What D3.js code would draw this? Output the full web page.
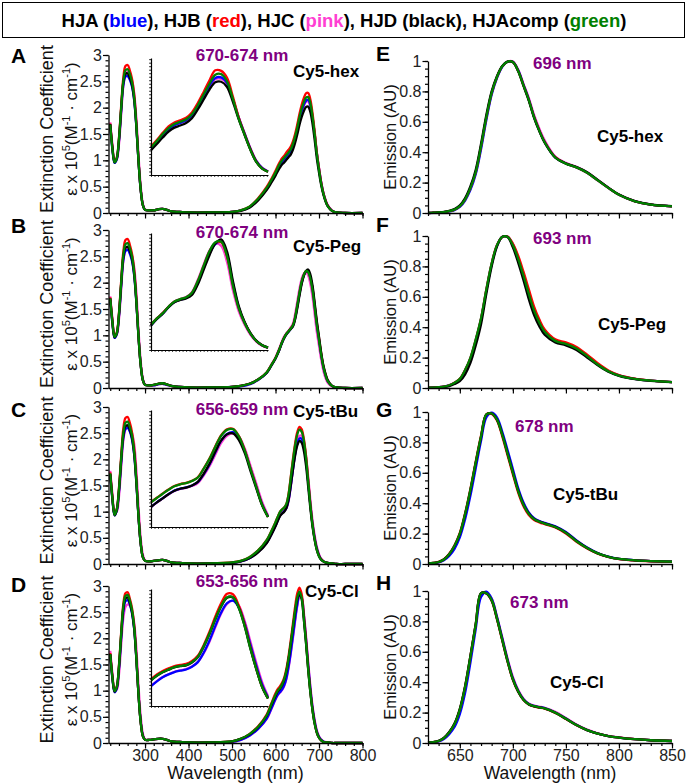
<!DOCTYPE html>
<html><head><meta charset="utf-8">
<script src="https://cdn.jsdelivr.net/npm/d3@7"></script>
<style>
body{margin:0;background:#fff}
svg{display:block}
text{font-family:"Liberation Sans",Arial,Helvetica,sans-serif}
</style>
</head><body>
<svg id="chart" width="687" height="783"></svg>
<script>
// ---------------- DATA ----------------
const seriesNames = ["HJA","HJB","HJC","HJD","HJAcomp"];
const seriesColorWords = ["blue","red","pink","black","green"];

// absorbance wavelength grid (nm)
const absWl = [220,225,230,235,240,245,250,255,260,265,270,275,280,285,290,295,300,
  310,320,330,340,350,360,380,400,450,500,520,540,560,
  580,590,600,605,610,615,620,625,630,635,640,645,650,655,660,665,670,675,680,685,690,695,700,705,710,715,720,
  730,740,760,800];

// Panel A (Cy5-hex), extinction coefficient x 10^5
const absA_HJA = [1.66,1.20,0.95,1.02,1.36,1.92,2.42,2.59,2.60,2.53,2.40,2.14,1.64,0.98,0.44,0.15,0.06,
  0.05,0.05,0.07,0.08,0.06,0.03,0.02,0.01,0.01,0.02,0.05,0.11,0.26,
  0.47,0.60,0.75,0.84,0.91,0.97,1.02,1.07,1.12,1.18,1.28,1.41,1.58,1.77,1.93,2.05,2.13,2.15,2.05,1.82,1.50,1.13,0.84,0.58,0.38,0.24,0.14,
  0.04,0.01,0,0];
const absA_HJB = [1.70,1.25,0.97,1.05,1.42,2.02,2.56,2.79,2.81,2.71,2.55,2.25,1.70,1.00,0.45,0.15,0.06,
  0.05,0.05,0.07,0.08,0.06,0.03,0.02,0.01,0.01,0.02,0.05,0.12,0.28,
  0.50,0.64,0.80,0.89,0.97,1.04,1.09,1.15,1.20,1.26,1.36,1.50,1.68,1.88,2.05,2.18,2.27,2.28,2.16,1.90,1.55,1.15,0.85,0.58,0.38,0.24,0.14,
  0.04,0.01,0,0];
const absA_HJC = [1.72,1.30,1.00,1.02,1.30,1.85,2.40,2.63,2.68,2.64,2.52,2.28,1.80,1.10,0.52,0.18,0.07,
  0.05,0.05,0.07,0.08,0.06,0.03,0.02,0.01,0.01,0.02,0.04,0.11,0.25,
  0.46,0.59,0.74,0.82,0.90,0.96,1.00,1.05,1.10,1.16,1.26,1.39,1.56,1.75,1.91,2.03,2.11,2.12,2.03,1.81,1.50,1.14,0.85,0.59,0.39,0.25,0.15,
  0.05,0.01,0,0];
const absA_HJD = [1.69,1.24,0.96,1.03,1.38,1.96,2.47,2.64,2.65,2.57,2.43,2.16,1.65,0.98,0.44,0.15,0.06,
  0.05,0.05,0.07,0.08,0.06,0.03,0.02,0.01,0.01,0.02,0.04,0.10,0.24,
  0.44,0.57,0.71,0.79,0.86,0.92,0.96,1.01,1.06,1.11,1.20,1.33,1.49,1.67,1.82,1.93,2.01,2.02,1.92,1.70,1.39,1.04,0.77,0.53,0.35,0.22,0.13,
  0.04,0.01,0,0];
const absA_HJAcomp = [1.68,1.22,0.96,1.04,1.40,1.98,2.50,2.71,2.73,2.64,2.49,2.20,1.67,0.99,0.45,0.15,0.06,
  0.05,0.05,0.07,0.08,0.06,0.03,0.02,0.01,0.01,0.02,0.05,0.12,0.27,
  0.48,0.62,0.77,0.86,0.94,1.00,1.05,1.10,1.15,1.21,1.31,1.45,1.62,1.82,1.98,2.10,2.19,2.20,2.09,1.84,1.50,1.12,0.82,0.56,0.37,0.23,0.13,
  0.04,0.01,0,0];

// Panel B (Cy5-Peg)
const absB_HJA = [1.68,1.22,0.95,1.02,1.36,1.92,2.42,2.60,2.62,2.55,2.41,2.14,1.63,0.97,0.44,0.15,0.06,
  0.05,0.05,0.07,0.08,0.06,0.04,0.02,0.01,0.01,0.02,0.03,0.07,0.15,
  0.29,0.42,0.56,0.65,0.75,0.86,0.95,1.02,1.07,1.12,1.18,1.32,1.54,1.78,1.99,2.13,2.21,2.21,2.10,1.89,1.56,1.21,0.92,0.63,0.40,0.24,0.13,
  0.04,0.01,0,0];
const absB_HJB = [1.72,1.28,0.98,1.05,1.42,2.02,2.58,2.81,2.83,2.72,2.55,2.24,1.68,0.98,0.44,0.15,0.06,
  0.05,0.06,0.08,0.09,0.07,0.04,0.02,0.01,0.01,0.02,0.04,0.08,0.16,
  0.30,0.43,0.57,0.66,0.76,0.87,0.96,1.03,1.08,1.13,1.19,1.33,1.55,1.79,2.00,2.14,2.22,2.21,2.10,1.90,1.58,1.24,0.95,0.66,0.42,0.26,0.14,
  0.04,0.01,0,0];
const absB_HJC = [1.74,1.32,1.01,1.02,1.30,1.85,2.40,2.62,2.66,2.63,2.52,2.30,1.82,1.10,0.52,0.18,0.07,
  0.05,0.05,0.07,0.08,0.06,0.04,0.02,0.01,0.01,0.02,0.04,0.08,0.16,
  0.30,0.44,0.58,0.68,0.78,0.89,0.98,1.04,1.09,1.15,1.22,1.40,1.64,1.88,2.07,2.17,2.20,2.14,1.98,1.74,1.40,1.06,0.80,0.54,0.33,0.19,0.10,
  0.03,0.01,0,0];
const absB_HJD = [1.70,1.25,0.96,1.03,1.38,1.96,2.48,2.66,2.68,2.60,2.45,2.16,1.64,0.97,0.44,0.15,0.06,
  0.05,0.06,0.08,0.09,0.07,0.04,0.02,0.01,0.01,0.02,0.04,0.08,0.16,
  0.29,0.42,0.56,0.65,0.75,0.86,0.95,1.02,1.07,1.12,1.17,1.30,1.51,1.75,1.97,2.13,2.22,2.25,2.16,1.95,1.62,1.27,0.97,0.67,0.43,0.27,0.15,
  0.04,0.01,0,0];
const absB_HJAcomp = [1.70,1.26,0.97,1.04,1.40,1.98,2.52,2.73,2.75,2.66,2.50,2.20,1.66,0.98,0.44,0.15,0.06,
  0.05,0.06,0.08,0.09,0.07,0.04,0.02,0.01,0.01,0.02,0.04,0.08,0.16,
  0.30,0.43,0.57,0.66,0.76,0.87,0.96,1.03,1.08,1.13,1.19,1.34,1.57,1.81,2.02,2.15,2.22,2.20,2.08,1.86,1.53,1.19,0.91,0.63,0.40,0.24,0.13,
  0.04,0.01,0,0];

// Panel C (Cy5-tBu)
const absC_HJA = [1.70,1.23,0.93,1.02,1.37,1.92,2.40,2.58,2.60,2.53,2.38,2.09,1.56,0.90,0.39,0.13,0.06,
  0.05,0.06,0.07,0.08,0.06,0.03,0.02,0.01,0.01,0.02,0.05,0.11,0.23,
  0.41,0.56,0.73,0.83,0.92,0.97,1.01,1.07,1.22,1.49,1.80,2.09,2.30,2.40,2.39,2.25,1.98,1.58,1.14,0.77,0.50,0.30,0.17,0.09,0.05,0.03,0.02,
  0.01,0,0,0];
const absC_HJB = [1.75,1.28,0.95,1.05,1.45,2.05,2.58,2.79,2.81,2.70,2.52,2.20,1.62,0.92,0.40,0.13,0.06,
  0.05,0.06,0.07,0.08,0.06,0.03,0.02,0.01,0.01,0.03,0.06,0.13,0.26,
  0.46,0.62,0.80,0.90,0.99,1.04,1.08,1.15,1.34,1.66,2.00,2.30,2.52,2.62,2.58,2.40,2.08,1.62,1.15,0.76,0.48,0.28,0.16,0.09,0.05,0.03,0.02,
  0.01,0,0,0];
const absC_HJC = [1.78,1.34,1.00,1.00,1.28,1.82,2.35,2.57,2.62,2.60,2.50,2.30,1.80,1.10,0.50,0.18,0.07,
  0.05,0.06,0.07,0.08,0.06,0.03,0.02,0.01,0.01,0.02,0.05,0.11,0.23,
  0.41,0.56,0.73,0.83,0.92,0.97,1.01,1.06,1.20,1.47,1.80,2.11,2.35,2.45,2.45,2.33,2.07,1.68,1.23,0.84,0.55,0.33,0.19,0.10,0.06,0.03,0.02,
  0.01,0,0,0];
const absC_HJD = [1.72,1.25,0.93,1.03,1.40,1.97,2.45,2.63,2.65,2.57,2.41,2.11,1.57,0.90,0.39,0.13,0.06,
  0.05,0.06,0.07,0.08,0.06,0.03,0.02,0.01,0.01,0.02,0.05,0.11,0.22,
  0.40,0.55,0.72,0.82,0.91,0.96,1.00,1.07,1.23,1.50,1.80,2.07,2.26,2.35,2.32,2.17,1.89,1.49,1.07,0.72,0.46,0.27,0.15,0.08,0.05,0.03,0.02,
  0.01,0,0,0];
const absC_HJAcomp = [1.73,1.26,0.94,1.04,1.42,2.00,2.50,2.70,2.72,2.62,2.46,2.15,1.60,0.91,0.40,0.13,0.06,
  0.05,0.06,0.07,0.08,0.06,0.03,0.02,0.01,0.01,0.03,0.06,0.13,0.26,
  0.46,0.62,0.80,0.90,0.99,1.04,1.08,1.15,1.33,1.64,1.97,2.26,2.47,2.57,2.53,2.36,2.04,1.59,1.13,0.75,0.47,0.27,0.15,0.08,0.05,0.03,0.02,
  0.01,0,0,0];

// Panel D (Cy5-Cl)
const absD_HJA = [1.68,1.23,0.97,1.04,1.40,1.98,2.50,2.71,2.73,2.65,2.48,2.18,1.61,0.93,0.41,0.14,0.06,
  0.06,0.07,0.08,0.08,0.06,0.03,0.02,0.01,0.01,0.02,0.06,0.14,0.27,
  0.47,0.65,0.84,0.92,0.97,1.02,1.10,1.24,1.46,1.73,2.04,2.36,2.64,2.82,2.78,2.45,2.00,1.50,1.05,0.68,0.41,0.22,0.12,0.06,0.03,0.01,0.01,
  0,0,0,0];
const absD_HJB = [1.72,1.28,1.00,1.08,1.48,2.10,2.65,2.86,2.88,2.76,2.58,2.25,1.65,0.93,0.40,0.13,0.06,
  0.06,0.07,0.08,0.08,0.06,0.03,0.02,0.01,0.01,0.03,0.08,0.17,0.32,
  0.55,0.75,0.95,1.03,1.08,1.15,1.25,1.42,1.66,1.96,2.28,2.60,2.86,2.97,2.85,2.45,1.98,1.45,1.00,0.64,0.38,0.20,0.10,0.05,0.02,0.01,0.01,
  0,0,0,0];
const absD_HJC = [1.76,1.33,1.02,1.02,1.30,1.86,2.38,2.60,2.65,2.63,2.52,2.30,1.82,1.10,0.52,0.18,0.07,
  0.06,0.07,0.08,0.08,0.06,0.03,0.02,0.01,0.01,0.02,0.06,0.14,0.27,
  0.46,0.64,0.83,0.91,0.96,1.01,1.09,1.22,1.43,1.70,2.00,2.32,2.61,2.79,2.78,2.50,2.06,1.56,1.10,0.72,0.44,0.24,0.13,0.07,0.03,0.02,0.01,
  0,0,0,0];
const absD_HJD = [1.70,1.25,0.98,1.06,1.44,2.04,2.56,2.76,2.78,2.68,2.50,2.19,1.61,0.92,0.40,0.13,0.06,
  0.06,0.07,0.08,0.08,0.06,0.03,0.02,0.01,0.01,0.03,0.08,0.16,0.30,
  0.52,0.71,0.90,0.98,1.03,1.10,1.20,1.36,1.60,1.88,2.19,2.49,2.74,2.85,2.75,2.37,1.92,1.42,0.98,0.63,0.37,0.20,0.10,0.05,0.02,0.01,0.01,
  0,0,0,0];
const absD_HJAcomp = [1.70,1.26,0.99,1.07,1.46,2.07,2.60,2.81,2.83,2.72,2.54,2.22,1.63,0.93,0.40,0.13,0.06,
  0.06,0.07,0.08,0.08,0.06,0.03,0.02,0.01,0.01,0.03,0.08,0.17,0.31,
  0.53,0.73,0.92,1.00,1.05,1.12,1.22,1.38,1.62,1.91,2.22,2.53,2.78,2.89,2.78,2.39,1.93,1.42,0.98,0.63,0.37,0.20,0.10,0.05,0.02,0.01,0.01,
  0,0,0,0];

// inset (zoom of the long-wavelength band), relative units
const insetWl = [560,570,580,590,600,610,620,630,640,650,660,670,680,690,700,710,720,730,740,750,760];
const insA_HJA = [0.228,0.283,0.34,0.39,0.425,0.445,0.467,0.51,0.585,0.675,0.765,0.83,0.834,0.785,0.65,0.49,0.355,0.225,0.12,0.06,0.03];
const insA_HJB = [0.245,0.30,0.36,0.415,0.448,0.468,0.49,0.535,0.615,0.71,0.81,0.895,0.89,0.83,0.67,0.49,0.35,0.22,0.115,0.056,0.028];
const insA_HJC = [0.228,0.283,0.34,0.39,0.425,0.445,0.465,0.505,0.578,0.665,0.752,0.818,0.822,0.78,0.648,0.492,0.358,0.228,0.122,0.06,0.03];
const insA_HJD = [0.211,0.265,0.32,0.37,0.405,0.423,0.445,0.485,0.56,0.645,0.73,0.792,0.797,0.752,0.625,0.475,0.342,0.215,0.112,0.055,0.028];
const insA_HJAcomp = [0.235,0.29,0.35,0.40,0.435,0.455,0.477,0.52,0.596,0.688,0.78,0.857,0.862,0.80,0.65,0.48,0.345,0.215,0.112,0.055,0.028];

const insB_HJA = [0.21,0.265,0.31,0.365,0.41,0.43,0.445,0.48,0.575,0.70,0.825,0.905,0.925,0.815,0.57,0.365,0.235,0.142,0.078,0.04,0.02];
const insB_HJB = [0.215,0.27,0.315,0.37,0.412,0.432,0.447,0.487,0.585,0.715,0.84,0.915,0.92,0.80,0.56,0.36,0.235,0.142,0.078,0.04,0.02];
const insB_HJC = [0.215,0.27,0.318,0.372,0.415,0.435,0.452,0.495,0.60,0.73,0.85,0.91,0.89,0.75,0.51,0.33,0.215,0.13,0.072,0.037,0.018];
const insB_HJD = [0.21,0.265,0.31,0.365,0.408,0.428,0.44,0.47,0.56,0.685,0.81,0.91,0.945,0.84,0.59,0.375,0.24,0.145,0.08,0.04,0.02];
const insB_HJAcomp = [0.215,0.27,0.315,0.37,0.415,0.435,0.45,0.49,0.59,0.72,0.845,0.92,0.925,0.80,0.55,0.355,0.23,0.14,0.077,0.04,0.02];

const insC_HJA = [0.172,0.211,0.246,0.281,0.311,0.328,0.338,0.355,0.383,0.45,0.535,0.64,0.738,0.795,0.81,0.765,0.655,0.50,0.345,0.195,0.09];
const insC_HJB = [0.214,0.25,0.286,0.32,0.35,0.367,0.377,0.395,0.425,0.50,0.585,0.69,0.785,0.835,0.84,0.78,0.66,0.50,0.343,0.19,0.086];
const insC_HJC = [0.17,0.208,0.243,0.278,0.308,0.325,0.335,0.35,0.375,0.44,0.52,0.62,0.72,0.78,0.80,0.775,0.675,0.525,0.37,0.215,0.10];
const insC_HJD = [0.171,0.21,0.245,0.28,0.31,0.327,0.337,0.355,0.385,0.455,0.54,0.645,0.74,0.793,0.80,0.745,0.635,0.48,0.33,0.185,0.085];
const insC_HJAcomp = [0.212,0.248,0.284,0.318,0.348,0.365,0.375,0.393,0.422,0.497,0.582,0.686,0.78,0.83,0.836,0.776,0.656,0.497,0.34,0.188,0.085];

const insD_HJA = [0.17,0.21,0.245,0.27,0.29,0.302,0.312,0.335,0.375,0.455,0.56,0.685,0.80,0.88,0.90,0.845,0.71,0.525,0.345,0.185,0.075];
const insD_HJB = [0.23,0.27,0.30,0.322,0.342,0.352,0.36,0.385,0.43,0.52,0.635,0.765,0.88,0.96,0.955,0.86,0.70,0.50,0.32,0.165,0.065];
const insD_HJC = [0.172,0.212,0.247,0.272,0.292,0.305,0.315,0.337,0.375,0.45,0.55,0.672,0.79,0.872,0.90,0.86,0.73,0.55,0.37,0.205,0.085];
const insD_HJD = [0.218,0.258,0.288,0.31,0.33,0.34,0.348,0.372,0.416,0.505,0.615,0.74,0.85,0.925,0.928,0.84,0.685,0.49,0.315,0.162,0.064];
const insD_HJAcomp = [0.22,0.26,0.29,0.312,0.332,0.342,0.35,0.375,0.42,0.51,0.62,0.745,0.855,0.93,0.93,0.84,0.685,0.49,0.315,0.162,0.064];

// emission wavelength grid (nm), normalized emission (AU)
const emWl = [620,625,630,635,640,645,650,655,660,665,670,675,680,685,690,695,700,705,710,715,720,725,730,740,750,760,770,780,790,800,815,830,850];

const emE_HJA = [0.000,0.001,0.003,0.005,0.010,0.019,0.040,0.082,0.152,0.255,0.420,0.612,0.778,0.888,0.962,0.996,0.995,0.940,0.845,0.748,0.632,0.542,0.466,0.366,0.326,0.300,0.265,0.215,0.165,0.120,0.077,0.055,0.044];
const emE_HJB = [0.000,0.002,0.004,0.006,0.012,0.022,0.045,0.090,0.165,0.270,0.440,0.630,0.790,0.895,0.965,0.996,0.993,0.935,0.840,0.745,0.632,0.542,0.467,0.367,0.326,0.300,0.265,0.215,0.165,0.120,0.077,0.055,0.044];
const emE_HJC = [0.000,0.002,0.004,0.006,0.012,0.022,0.044,0.088,0.162,0.266,0.436,0.626,0.787,0.893,0.964,0.996,0.996,0.942,0.850,0.758,0.645,0.554,0.478,0.372,0.330,0.304,0.268,0.218,0.167,0.121,0.078,0.055,0.044];
const emE_HJD = [0.000,0.002,0.004,0.007,0.014,0.026,0.050,0.098,0.176,0.285,0.455,0.645,0.800,0.900,0.967,0.996,0.992,0.932,0.836,0.740,0.626,0.537,0.462,0.364,0.325,0.302,0.268,0.218,0.167,0.121,0.078,0.056,0.045];
const emE_HJAcomp = [0.000,0.002,0.004,0.006,0.012,0.022,0.045,0.090,0.165,0.270,0.440,0.630,0.790,0.895,0.965,0.996,0.993,0.935,0.840,0.745,0.630,0.540,0.465,0.365,0.325,0.300,0.265,0.215,0.165,0.120,0.077,0.055,0.044];

const emF_HJA = [0.002,0.003,0.005,0.009,0.017,0.033,0.057,0.114,0.192,0.310,0.450,0.640,0.812,0.936,0.994,0.995,0.945,0.855,0.745,0.625,0.515,0.435,0.373,0.312,0.292,0.262,0.212,0.157,0.111,0.083,0.060,0.048,0.039];
const emF_HJB = [0.002,0.003,0.005,0.009,0.018,0.035,0.060,0.118,0.197,0.316,0.456,0.646,0.818,0.940,0.994,0.996,0.950,0.870,0.765,0.650,0.535,0.450,0.385,0.320,0.300,0.270,0.220,0.163,0.115,0.085,0.061,0.049,0.039];
const emF_HJC = [0.002,0.003,0.005,0.009,0.018,0.034,0.059,0.118,0.198,0.318,0.458,0.648,0.818,0.939,0.994,0.994,0.943,0.856,0.748,0.630,0.520,0.438,0.376,0.314,0.293,0.263,0.213,0.158,0.112,0.083,0.060,0.048,0.039];
const emF_HJD = [0.001,0.002,0.004,0.007,0.013,0.026,0.045,0.090,0.165,0.280,0.420,0.620,0.800,0.930,0.995,0.993,0.925,0.825,0.710,0.585,0.480,0.405,0.350,0.300,0.280,0.250,0.200,0.150,0.107,0.080,0.058,0.047,0.038];
const emF_HJAcomp = [0.002,0.003,0.005,0.009,0.018,0.035,0.060,0.120,0.200,0.320,0.460,0.650,0.820,0.940,0.994,0.994,0.940,0.850,0.740,0.620,0.510,0.430,0.370,0.310,0.290,0.260,0.210,0.155,0.110,0.082,0.060,0.048,0.039];

const emG_HJA = [0.003,0.005,0.010,0.024,0.053,0.100,0.175,0.295,0.450,0.630,0.810,0.965,0.995,0.965,0.870,0.750,0.625,0.500,0.405,0.340,0.302,0.283,0.270,0.248,0.210,0.155,0.108,0.072,0.048,0.034,0.025,0.019,0.015];
const emG_HJB = [0.004,0.007,0.014,0.031,0.067,0.123,0.204,0.335,0.495,0.675,0.845,0.985,0.988,0.945,0.840,0.715,0.590,0.470,0.380,0.322,0.290,0.274,0.262,0.240,0.200,0.146,0.102,0.068,0.046,0.032,0.023,0.018,0.014];
const emG_HJC = [0.004,0.006,0.012,0.028,0.061,0.114,0.192,0.320,0.480,0.660,0.832,0.980,0.992,0.955,0.858,0.735,0.610,0.490,0.398,0.336,0.299,0.281,0.268,0.246,0.208,0.153,0.107,0.071,0.047,0.033,0.024,0.019,0.015];
const emG_HJD = [0.004,0.007,0.013,0.030,0.064,0.118,0.198,0.327,0.486,0.666,0.836,0.983,0.990,0.950,0.852,0.728,0.603,0.483,0.392,0.332,0.296,0.279,0.267,0.244,0.206,0.151,0.106,0.070,0.047,0.033,0.024,0.019,0.015];
const emG_HJAcomp = [0.004,0.007,0.013,0.030,0.065,0.120,0.200,0.330,0.490,0.670,0.840,0.985,0.990,0.950,0.850,0.725,0.600,0.480,0.390,0.330,0.295,0.278,0.266,0.243,0.205,0.150,0.105,0.070,0.047,0.033,0.024,0.019,0.015];

const emH_HJA = [0.001,0.004,0.010,0.026,0.058,0.105,0.190,0.330,0.530,0.750,0.960,0.995,0.950,0.830,0.690,0.548,0.426,0.344,0.288,0.257,0.244,0.236,0.229,0.201,0.161,0.119,0.085,0.062,0.046,0.036,0.025,0.018,0.013];
const emH_HJB = [0.002,0.006,0.013,0.033,0.070,0.126,0.222,0.372,0.572,0.782,0.985,0.984,0.936,0.815,0.674,0.535,0.416,0.337,0.283,0.253,0.240,0.233,0.226,0.198,0.158,0.117,0.084,0.061,0.045,0.035,0.025,0.018,0.013];
const emH_HJC = [0.002,0.005,0.012,0.031,0.067,0.121,0.214,0.362,0.562,0.774,0.982,0.990,0.950,0.832,0.695,0.555,0.435,0.350,0.292,0.260,0.246,0.239,0.232,0.205,0.165,0.122,0.088,0.064,0.047,0.037,0.026,0.019,0.014];
const emH_HJD = [0.002,0.006,0.014,0.034,0.072,0.128,0.225,0.375,0.575,0.785,0.986,0.984,0.938,0.818,0.678,0.538,0.418,0.338,0.284,0.254,0.241,0.234,0.227,0.199,0.159,0.118,0.085,0.062,0.046,0.036,0.025,0.018,0.013];
const emH_HJAcomp = [0.002,0.006,0.013,0.033,0.070,0.125,0.220,0.370,0.570,0.780,0.985,0.985,0.940,0.820,0.680,0.540,0.420,0.340,0.285,0.255,0.242,0.235,0.228,0.200,0.160,0.118,0.085,0.062,0.046,0.036,0.025,0.018,0.013];

// tick labels and texts
const absYTicks = ["0","0.5","1","1.5","2","2.5","3"];
const absXTicks = ["300","400","500","600","700","800"];
const emYTicks = ["0","0.2","0.4","0.6","0.8","1"];
const emXTicks = ["650","700","750","800","850"];
const absLetters = ["A","B","C","D"];
const emLetters = ["E","F","G","H"];
const absRanges = ["670-674 nm","670-674 nm","656-659 nm","653-656 nm"];
const emPeaks = ["696 nm","693 nm","678 nm","673 nm"];
const dyeNames = ["Cy5-hex","Cy5-Peg","Cy5-tBu","Cy5-Cl"];

// ---------------- STYLE / LAYOUT ----------------
const colorOf = {HJA:"#0000ff", HJB:"#ff0000", HJC:"#ff3fd2", HJD:"#000000", HJAcomp:"#008000"};
const drawOrder = ["HJC","HJA","HJB","HJD","HJAcomp"];
const purple = "#800080";

const absSets = [
  {abs:[absA_HJA,absA_HJB,absA_HJC,absA_HJD,absA_HJAcomp], ins:[insA_HJA,insA_HJB,insA_HJC,insA_HJD,insA_HJAcomp]},
  {abs:[absB_HJA,absB_HJB,absB_HJC,absB_HJD,absB_HJAcomp], ins:[insB_HJA,insB_HJB,insB_HJC,insB_HJD,insB_HJAcomp]},
  {abs:[absC_HJA,absC_HJB,absC_HJC,absC_HJD,absC_HJAcomp], ins:[insC_HJA,insC_HJB,insC_HJC,insC_HJD,insC_HJAcomp]},
  {abs:[absD_HJA,absD_HJB,absD_HJC,absD_HJD,absD_HJAcomp], ins:[insD_HJA,insD_HJB,insD_HJC,insD_HJD,insD_HJAcomp]}
];
const emSets = [
  [emE_HJA,emE_HJB,emE_HJC,emE_HJD,emE_HJAcomp],
  [emF_HJA,emF_HJB,emF_HJC,emF_HJD,emF_HJAcomp],
  [emG_HJA,emG_HJB,emG_HJC,emG_HJD,emG_HJAcomp],
  [emH_HJA,emH_HJB,emH_HJC,emH_HJD,emH_HJAcomp]
];
absSets.forEach((s,i)=>{ s.abs.forEach((a,j)=>{ if(a.length!==absWl.length) throw new Error("abs len "+i+" "+j+" "+a.length); });
  s.ins.forEach((a,j)=>{ if(a.length!==insetWl.length) throw new Error("ins len "+i+" "+j+" "+a.length); }); });
emSets.forEach((s,i)=>s.forEach((a,j)=>{ if(a.length!==emWl.length) throw new Error("em len "+i+" "+j+" "+a.length); }));

const absTop = [55,230,407,586], rowBot = [213,388,564,743];
const emTop = [61,236,412,591];
const absXR = [108.5,362.5], emXR = [428,672];
const FONT = '"Liberation Sans",Arial,Helvetica,sans-serif';

const svg = d3.select("#chart");
svg.append("rect").attr("width",687).attr("height",783).attr("fill","#fff");

// title
svg.append("rect").attr("x",2.5).attr("y",2.5).attr("width",682).attr("height",35)
  .attr("fill","none").attr("stroke","#000").attr("stroke-width",1);
const title = svg.append("text").attr("x",344).attr("y",26.5).attr("text-anchor","middle")
  .style("font-size","18.5px").style("font-weight","bold");
seriesNames.forEach((n,i)=>{
  title.append("tspan").attr("fill","#000").text((i?", ":"")+n+" (");
  title.append("tspan").attr("fill", seriesColorWords[i]==="black" ? "#000" : colorOf[n]).text(seriesColorWords[i]);
  title.append("tspan").attr("fill","#000").text(")");
});

function styleAxis(g, fs){
  g.selectAll("path.domain").attr("stroke","#000").attr("stroke-width",1.3);
  g.selectAll(".tick line").attr("stroke","#000").attr("stroke-width",1.2);
  g.selectAll("text").attr("fill","#222").style("font-size",fs+"px").style("font-family",FONT);
}

function drawYAxis(x, y, ticks, minorStep, fs){
  const dom = y.domain();
  const minors = d3.range(dom[0], dom[1]+1e-9, minorStep);
  const gm = svg.append("g").attr("transform",`translate(${x},0)`)
    .call(d3.axisLeft(y).tickValues(minors).tickSize(3).tickSizeOuter(0).tickFormat(""));
  styleAxis(gm, fs);
  const g = svg.append("g").attr("transform",`translate(${x},0)`)
    .call(d3.axisLeft(y).tickValues(ticks.map(Number)).tickSize(5.5).tickSizeOuter(0).tickPadding(1)
      .tickFormat((d,i)=>ticks[i]));
  g.select("path.domain").remove();
  styleAxis(g, fs);
}
function drawXAxis(yPos, x, ticks, minorStep, showLabels, fs){
  const dom = x.domain();
  const start = Math.ceil(dom[0]/minorStep)*minorStep;
  const minors = d3.range(start, dom[1]+1e-9, minorStep);
  const gm = svg.append("g").attr("transform",`translate(0,${yPos})`)
    .call(d3.axisBottom(x).tickValues(minors).tickSize(3).tickSizeOuter(0).tickFormat(""));
  styleAxis(gm, fs);
  const g = svg.append("g").attr("transform",`translate(0,${yPos})`)
    .call(d3.axisBottom(x).tickValues(ticks.map(Number)).tickSize(5.5).tickSizeOuter(0).tickPadding(1)
      .tickFormat((d,i)=> showLabels ? ticks[i] : ""));
  g.select("path.domain").remove();
  styleAxis(g, fs);
}

const curve = d3.curveCatmullRom.alpha(0.5);

// ---------------- ABSORBANCE PANELS ----------------
absSets.forEach((set, p)=>{
  const x = d3.scaleLinear().domain([216,800]).range(absXR);
  const y = d3.scaleLinear().domain([0,3]).range([rowBot[p], absTop[p]]);
  const line = d3.line().x((d,i)=>x(absWl[i])).y(d=>y(d)).curve(curve);
  drawOrder.forEach(name=>{
    const k = seriesNames.indexOf(name);
    svg.append("path").attr("d", line(set.abs[k])).attr("fill","none")
      .attr("stroke", colorOf[name]).attr("stroke-width",2.3).attr("stroke-linejoin","round");
  });
  drawYAxis(absXR[0], y, absYTicks, 0.1, 16);
  drawXAxis(rowBot[p], x, absXTicks, 20, p===3, 16);

  // inset
  const ix = d3.scaleLinear().domain([560,760]).range([151,268]);
  const iy = d3.scaleLinear().domain([0,1]).range([absTop[p]+120, absTop[p]+3]);
  const iline = d3.line().x((d,i)=>ix(insetWl[i])).y(d=>iy(d)).curve(curve);
  drawOrder.forEach(name=>{
    const k = seriesNames.indexOf(name);
    svg.append("path").attr("d", iline(set.ins[k])).attr("fill","none")
      .attr("stroke", colorOf[name]).attr("stroke-width",2.3).attr("stroke-linejoin","round");
  });
  const gi1 = svg.append("g").attr("transform",`translate(151,0)`)
    .call(d3.axisLeft(iy).tickValues(d3.range(0,1.0001,0.03)).tickSize(1.8).tickSizeOuter(0).tickFormat(""));
  const gi2 = svg.append("g").attr("transform",`translate(0,${absTop[p]+120})`)
    .call(d3.axisBottom(ix).tickValues(d3.range(560,760.01,6)).tickSize(1.8).tickSizeOuter(0).tickFormat(""));
  [gi1,gi2].forEach(g=>{ g.selectAll("path.domain").attr("stroke","#000").attr("stroke-width",1.2);
    g.selectAll(".tick line").attr("stroke","#000").attr("stroke-width",0.9); });

  // axis title (two lines)
  const cy = (absTop[p]+rowBot[p])/2 - 5;
  svg.append("text").attr("transform",`translate(53,${cy}) rotate(-90)`).attr("text-anchor","middle")
    .style("font-size","18px").attr("fill","#111").text("Extinction Coefficient");
  const t2 = svg.append("text").attr("transform",`translate(77,${cy}) rotate(-90)`).attr("text-anchor","middle")
    .style("font-size","17px").attr("fill","#111");
  t2.append("tspan").text("\u03b5 x 10");
  t2.append("tspan").attr("dy",-7).style("font-size","11px").text("5");
  t2.append("tspan").attr("dy",7).text("(M");
  t2.append("tspan").attr("dy",-7).style("font-size","11px").text("-1");
  t2.append("tspan").attr("dy",7).text(" \u00b7 cm");
  t2.append("tspan").attr("dy",-7).style("font-size","11px").text("-1");
  t2.append("tspan").attr("dy",7).text(")");
});
const absLetterY = [63,233,417,592];
const absRangeY = [61,238,415,587];
const dyeAbsPos = [[293,77],[293,252],[293,417],[305,597]];
absLetters.forEach((L,p)=>{
  svg.append("text").attr("x",11).attr("y",absLetterY[p]).style("font-size","21px").style("font-weight","bold").text(L);
  svg.append("text").attr("x",242).attr("y",absRangeY[p]).attr("text-anchor","middle")
    .style("font-size","17px").style("font-weight","bold").attr("fill",purple).text(absRanges[p]);
  svg.append("text").attr("x",dyeAbsPos[p][0]).attr("y",dyeAbsPos[p][1])
    .style("font-size","17px").style("font-weight","bold").attr("fill","#000").text(dyeNames[p]);
});
svg.append("text").attr("x",235.5).attr("y",779).attr("text-anchor","middle").style("font-size","18px").attr("fill","#111").text("Wavelength (nm)");

// ---------------- EMISSION PANELS ----------------
emSets.forEach((set,p)=>{
  const x = d3.scaleLinear().domain([620,850]).range(emXR);
  const y = d3.scaleLinear().domain([0,1]).range([rowBot[p], emTop[p]]);
  const line = d3.line().x((d,i)=>x(emWl[i])).y(d=>y(d)).curve(curve);
  drawOrder.forEach(name=>{
    const k = seriesNames.indexOf(name);
    svg.append("path").attr("d", line(set[k])).attr("fill","none")
      .attr("stroke", colorOf[name]).attr("stroke-width",2.3).attr("stroke-linejoin","round");
  });
  drawYAxis(emXR[0], y, emYTicks, 0.05, 16);
  drawXAxis(rowBot[p], x, emXTicks, 10, p===3, 16);
  const cy = (emTop[p]+rowBot[p])/2;
  svg.append("text").attr("transform",`translate(396,${cy}) rotate(-90)`).attr("text-anchor","middle")
    .style("font-size","16.5px").attr("fill","#111").text("Emission (AU)");
});
const emLetterY = [61,232,417,590];
const emPeakPos = [[533,69],[533,244],[515,432],[510,608]];
const dyeEmPos = [[597,142],[598,330],[553,500],[550,688]];
emLetters.forEach((L,p)=>{
  svg.append("text").attr("x",376).attr("y",emLetterY[p]).style("font-size","21px").style("font-weight","bold").text(L);
  svg.append("text").attr("x",emPeakPos[p][0]).attr("y",emPeakPos[p][1])
    .style("font-size","17px").style("font-weight","bold").attr("fill",purple).text(emPeaks[p]);
  svg.append("text").attr("x",dyeEmPos[p][0]).attr("y",dyeEmPos[p][1])
    .style("font-size","17px").style("font-weight","bold").attr("fill","#000").text(dyeNames[p]);
});
svg.append("text").attr("x",550).attr("y",779).attr("text-anchor","middle").style("font-size","17.5px").attr("fill","#111").text("Wavelength (nm)");
</script>
</body></html>
